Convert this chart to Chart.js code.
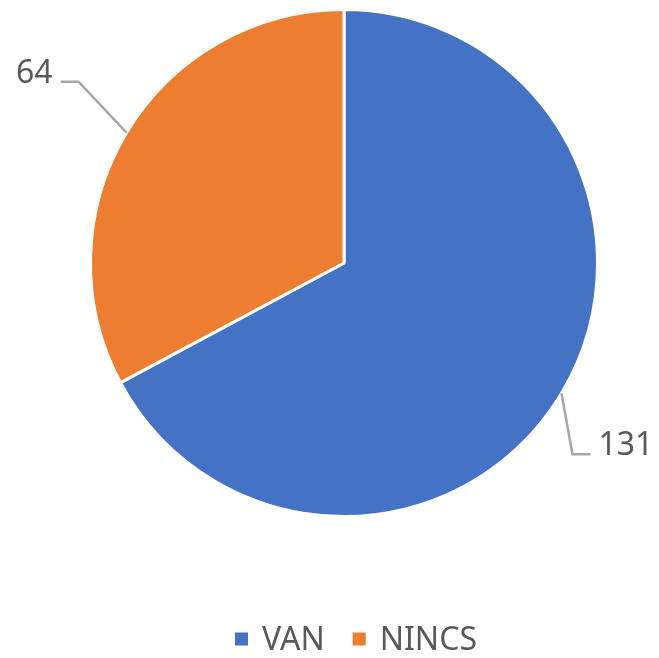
<!DOCTYPE html>
<html>
<head>
<meta charset="utf-8">
<script src="https://cdn.jsdelivr.net/npm/chart.js@4.4.1/dist/chart.umd.min.js"></script>
<style>
  html, body { margin: 0; padding: 0; background: #fff; }
  #chart { display: block; }
</style>
</head>
<body>
<canvas id="chart" width="659" height="658"></canvas>
<script>
// chart data
const categories = ['VAN', 'NINCS'];
const values = [131, 64];
const colors = ['#4472C4', '#ED7D31'];

// leader line elbows, relative to the slice edge point
const leaderOffsets = [
    { dx: 11, dy: 61, dir: 1 },
    { dx: -48, dy: -51, dir: -1 }
];

const FONT = '32px "Noto Sans"';
const TEXT_COLOR = '#595959';

const sliceLabels = {
    id: 'sliceLabels',
    afterDatasetsDraw(chart) {
        const ctx = chart.ctx;
        const meta = chart.getDatasetMeta(0);
        ctx.save();
        meta.data.forEach((arc, i) => {
            const p = arc.getProps(['x', 'y', 'startAngle', 'endAngle', 'outerRadius'], true);
            const mid = (p.startAngle + p.endAngle) / 2;
            const ex = p.x + Math.cos(mid) * p.outerRadius;
            const ey = p.y + Math.sin(mid) * p.outerRadius;
            const off = leaderOffsets[i];
            const kx = ex + off.dx;
            const ky = ey + off.dy;
            const hx = kx + off.dir * 18;

            ctx.strokeStyle = '#A6A6A6';
            ctx.lineWidth = 2.5;
            ctx.beginPath();
            ctx.moveTo(ex, ey);
            ctx.lineTo(kx, ky);
            ctx.lineTo(hx, ky);
            ctx.stroke();

            ctx.fillStyle = TEXT_COLOR;
            ctx.font = FONT;
            ctx.textBaseline = 'alphabetic';
            ctx.textAlign = off.dir > 0 ? 'left' : 'right';
            ctx.fillText(String(values[i]), hx + off.dir * 8, ky + 1);
        });
        ctx.restore();
    }
};

const bottomLegend = {
    id: 'bottomLegend',
    afterDraw(chart) {
        const ctx = chart.ctx;
        const area = chart.chartArea;
        const box = 13, gapText = 14, gapItem = 28;
        const cy = 639;
        ctx.save();
        ctx.font = FONT;
        const widths = chart.data.labels.map(l => ctx.measureText(l).width);
        let total = 0;
        widths.forEach((w, i) => { total += box + gapText + w + (i < widths.length - 1 ? gapItem : 0); });
        let x = (area.left + area.right) / 2 - total / 2 + 12;
        chart.data.labels.forEach((label, i) => {
            ctx.fillStyle = chart.data.datasets[0].backgroundColor[i];
            ctx.fillRect(x, cy - box / 2, box, box);
            x += box + gapText;
            ctx.fillStyle = TEXT_COLOR;
            ctx.textAlign = 'left';
            ctx.textBaseline = 'middle';
            ctx.fillText(label, x, cy + 2);
            x += widths[i] + gapItem;
        });
        ctx.restore();
    }
};

new Chart(document.getElementById('chart').getContext('2d'), {
    type: 'pie',
    data: {
        labels: categories,
        datasets: [{
            data: values,
            backgroundColor: colors,
            borderColor: '#FFFFFF',
            borderWidth: 3
        }]
    },
    options: {
        responsive: false,
        animation: false,
        layout: {
            padding: { top: 8, left: 89, right: 60, bottom: 140 }
        },
        plugins: {
            legend: { display: false },
            tooltip: { enabled: false }
        }
    },
    plugins: [sliceLabels, bottomLegend]
});
</script>
</body>
</html>
